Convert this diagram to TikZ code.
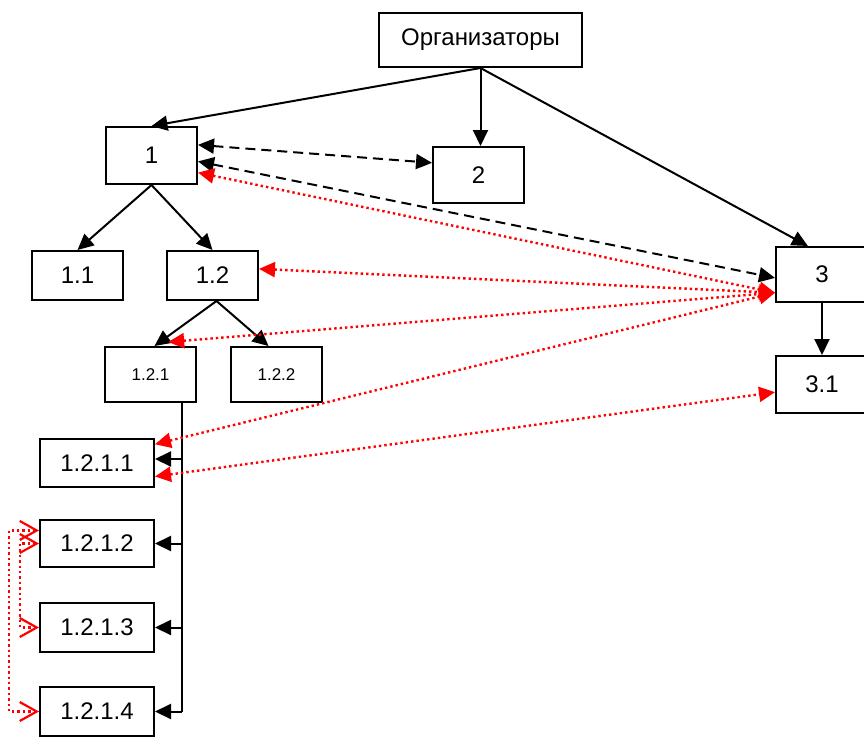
\documentclass[tikz,border=0pt]{standalone}
\usepackage{fontspec}
\setmainfont{Liberation Sans}
\usetikzlibrary{arrows.meta,calc}
\begin{document}
\begin{tikzpicture}[x=1pt,y=-1pt,
  box/.style={draw,line width=2pt,inner sep=0pt,font=\fontsize{24}{28}\selectfont},
  smallbox/.style={box,font=\fontsize{17}{20}\selectfont},
  arr/.style={line width=2pt,-{Triangle[length=16pt,width=15pt]}},
  plain/.style={line width=2pt},
  dash2/.style={line width=2pt,dash pattern=on 10pt off 6pt,{Triangle[length=16pt,width=15pt]}-{Triangle[length=16pt,width=15pt]}},
  reddot/.style={red,line width=2.4pt,dash pattern=on 2.4pt off 3pt,{Triangle[length=16pt,width=15pt]}-{Triangle[length=16pt,width=15pt]}},
  redloop/.style={red,line width=2.4pt,dash pattern=on 2.4pt off 3pt,{Straight Barb[length=17pt,width=19pt,line width=2.2pt]}-{Straight Barb[length=17pt,width=19pt,line width=2.2pt]}}
]
\useasboundingbox (0,0) rectangle (864,736);
\clip (0,0) rectangle (864,736);
% boxes
\node[box,minimum width=203pt,minimum height=54pt] (org) at (480.5,40) {Организаторы};
\node[box,minimum width=91pt,minimum height=57pt] (b1) at (151.5,155.5) {1};
\node[box,minimum width=91pt,minimum height=56pt] (b2) at (478.5,175) {2};
\node[box,minimum width=92pt,minimum height=55pt] (b3) at (822,274.5) {3};
\node[box,minimum width=92pt,minimum height=57pt] (b31) at (822,384.5) {3.1};
\node[box,minimum width=91pt,minimum height=49pt] (b11) at (77.5,275.5) {1.1};
\node[box,minimum width=91pt,minimum height=49pt] (b12) at (212.5,275.5) {1.2};
\node[smallbox,minimum width=91pt,minimum height=55pt] (b121) at (150.5,374.5) {1.2.1};
\node[smallbox,minimum width=91pt,minimum height=55pt] (b122) at (276.5,374.5) {1.2.2};
\node[box,minimum width=114pt,minimum height=48pt] (b1211) at (97,463) {1.2.1.1};
\node[box,minimum width=114pt,minimum height=47pt] (b1212) at (97,543.5) {1.2.1.2};
\node[box,minimum width=114pt,minimum height=49pt] (b1213) at (97,627.5) {1.2.1.3};
\node[box,minimum width=114pt,minimum height=49pt] (b1214) at (97,711.5) {1.2.1.4};
% tree connectors
\draw[arr] (org.south) -- (b1.north);
\draw[arr] (org.south) -- (org.south |- b2.north);
\draw[arr] (org.south) -- ($(b3.north west)!0.35!(b3.north east)$);
\draw[arr] (b1.south) -- (b11.north);
\draw[arr] (b1.south) -- (b12.north);
\draw[arr] ($(b12.south)+(4,0)$) -- ($(b121.north)+(4,0)$);
\draw[arr] ($(b12.south)+(4,0)$) -- ($(b122.north)+(-8,0)$);
\draw[arr] (b3.south) -- (b31.north);
% bus
\coordinate (bus) at ($(b121.south west)!0.835!(b121.south east)$);
\draw[plain] (bus) -- (bus |- b1214.east);
\draw[arr] ($(bus |- b1211.east)+(0,-4)$) -- ($(b1211.east)+(0,-4)$);
\draw[arr] (bus |- b1212.east) -- (b1212.east);
\draw[arr] (bus |- b1213.east) -- (b1213.east);
\draw[arr] (bus |- b1214.east) -- (b1214.east);
% dashed
\draw[dash2] ($(b1.north east)!0.32!(b1.south east)$) -- ($(b2.north west)!0.29!(b2.south west)$);
\draw[dash2] ($(b1.north east)!0.6!(b1.south east)$) -- ($(b3.north west)!0.56!(b3.south west)$);
% red dotted
\coordinate (r3) at ($(b3.north west)!0.82!(b3.south west)$);
\coordinate (r121) at ($(b121.north west)!0.69!(b121.north east)+(0,-4)$);
\draw[reddot] ($(b1.north east)!0.79!(b1.south east)$) -- (r3);
\draw[reddot] ($(b12.north east)!0.37!(b12.south east)$) -- (r3);
\draw[reddot] (r121) -- (r3);
\draw[reddot] ($(b1211.north east)!0.125!(b1211.south east)$) -- (r3);
\draw[reddot] ($(b1211.north east)!0.77!(b1211.south east)$) -- ($(b31.north west)!0.63!(b31.south west)$);
% red loops
\draw[redloop] ($(b1212.north west)!0.234!(b1212.south west)$) -- ++(-30,0) |- (b1214.west);
\draw[redloop] (b1212.west) -- ++(-19,0) |- (b1213.west);
\end{tikzpicture}
\end{document}
